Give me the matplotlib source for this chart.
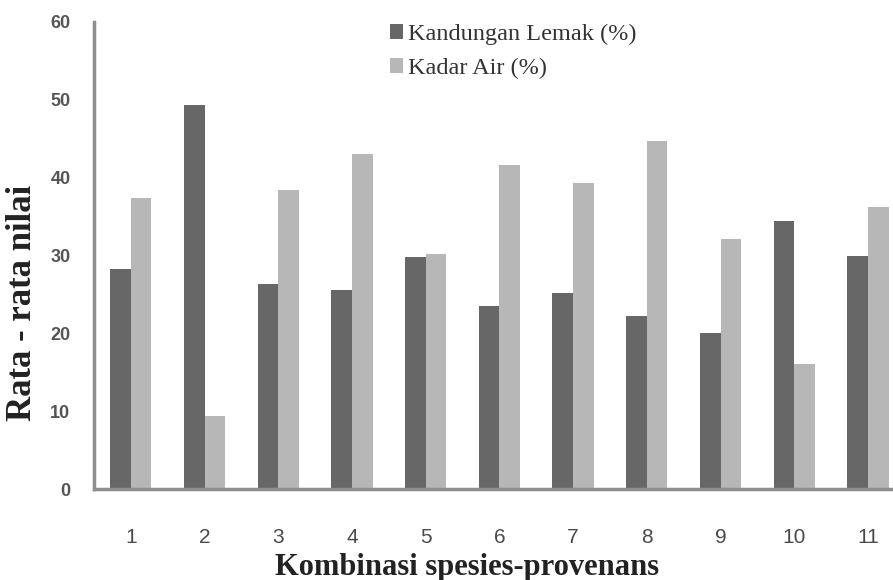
import matplotlib
matplotlib.use("Agg")
import matplotlib.pyplot as plt
import numpy as np

# data
kombinasi = ["1", "2", "3", "4", "5", "6", "7", "8", "9", "10", "11"]
lemak = [28.3, 49.4, 26.4, 25.6, 29.8, 23.5, 25.2, 22.2, 20.1, 34.4, 30.0]
kadar_air = [37.4, 9.4, 38.4, 43.1, 30.2, 41.6, 39.3, 44.7, 32.1, 16.1, 36.2]

fig = plt.figure(figsize=(8.93, 5.8), dpi=100, facecolor="white")
ax = fig.add_axes([94 / 893, 91 / 580, 1 - 94 / 893, 467 / 580])

x = np.arange(1, len(kombinasi) + 1)
w = 0.28
ax.bar(x - w / 2, lemak, w, color="#676767", label="Kandungan Lemak (%)")
ax.bar(x + w / 2, kadar_air, w, color="#b7b7b7", label="Kadar Air (%)")

ax.set_xlim(0.5, 11.34)
ax.set_ylim(0, 60)
ax.set_yticks(range(0, 61, 10))
ax.set_xticks(x)
ax.set_xticklabels(kombinasi)

for s in ["top", "right"]:
    ax.spines[s].set_visible(False)
for s in ["left", "bottom"]:
    ax.spines[s].set_color("#8e8e8e")
    ax.spines[s].set_linewidth(2.5)

ax.tick_params(axis="both", length=0, labelcolor="#4a4a4a")
ax.tick_params(axis="y", pad=17, labelsize=13)
ax.tick_params(axis="x", pad=28, labelsize=15)
for lab in ax.get_yticklabels():
    lab.set_fontfamily("Liberation Sans")
    lab.set_fontweight("bold")
    lab.set_color("#555555")
for lab in ax.get_xticklabels():
    lab.set_fontfamily(["Liberation Sans Narrow", "Liberation Sans"])

fig.text(23 / 893, 1 - 303 / 580, "Rata - rata nilai", rotation=90,
         ha="center", va="center", fontsize=25, fontweight="bold",
         family="Liberation Serif", color="#222222")
fig.text(467 / 893, 1 - 567 / 580, "Kombinasi spesies-provenans",
         ha="center", va="center", fontsize=22, fontweight="bold",
         family="Liberation Serif", color="#222222")

leg = ax.legend(loc="upper left", bbox_to_anchor=(368 / 893, 1 - 2 / 580),
                bbox_transform=fig.transFigure, frameon=False,
                prop={"family": "Liberation Serif", "size": 17.5},
                handlelength=0.53, handleheight=0.53, handletextpad=0.2,
                labelspacing=0.53)
for t in leg.get_texts():
    t.set_color("#333333")

fig.savefig("out.png", dpi=100, facecolor="white")
